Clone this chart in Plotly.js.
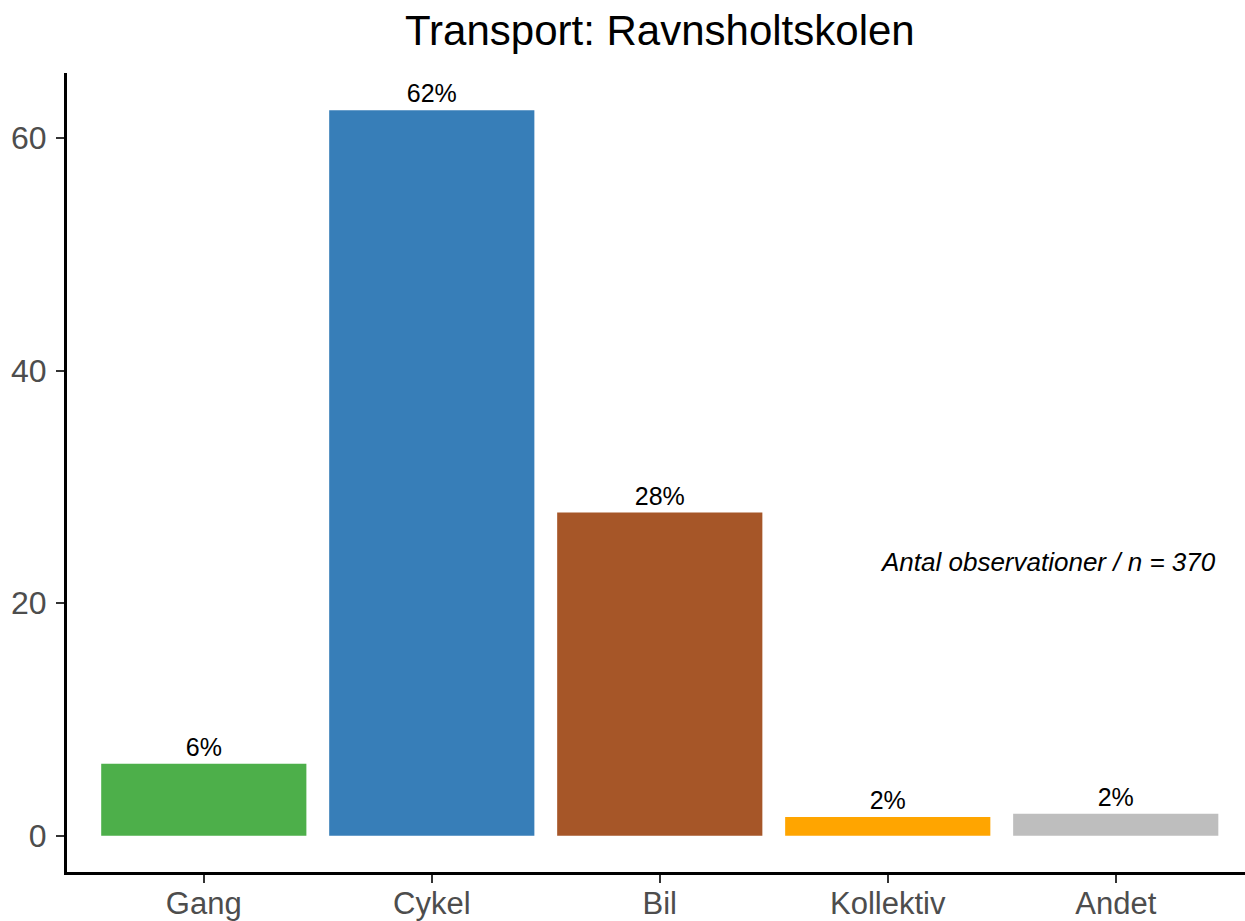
<!DOCTYPE html>
<html>
<head>
<meta charset="utf-8">
<script src="https://cdn.plot.ly/plotly-3.0.1.min.js"></script>
<style>html,body{margin:0;padding:0;background:#fff}#chart{width:1245px;height:921px}</style>
</head>
<body>
<div id="chart"></div>
<script>
const categories = ["Gang", "Cykel", "Bil", "Kollektiv", "Andet"];
const percentages = [6.2, 62.4, 27.8, 1.6, 1.9];
const barLabels = ["6%", "62%", "28%", "2%", "2%"];
const barColors = ["#4DAF4A", "#377EB8", "#A65628", "#FFA500", "#BEBEBE"];
const yTicks = [0, 20, 40, 60];
const nObs = 370;
const titleText = "Transport: Ravnsholtskolen";

const trace = {
  type: "bar",
  x: categories,
  y: percentages,
  width: 0.9,
  marker: {color: barColors, line: {width: 0}},
  text: barLabels,
  textposition: "outside",
  cliponaxis: false,
  textfont: {family: "Liberation Sans, Arial, sans-serif", size: 25, color: "#000"},
  hoverinfo: "skip"
};

const layout = {
  width: 1245, height: 921,
  margin: {l: 67, r: 0, t: 73, b: 49},
  paper_bgcolor: "#fff", plot_bgcolor: "#fff",
  showlegend: false,
  title: {
    text: titleText,
    font: {family: "Liberation Sans, Arial, sans-serif", size: 42, color: "#000"},
    x: 0.53, xanchor: "center", y: 0.967, yanchor: "middle"
  },
  xaxis: {
    type: "category",
    range: [-0.6, 4.567],
    showline: true, linecolor: "#000", linewidth: 3,
    ticks: "outside", ticklen: 8, tickwidth: 2, tickcolor: "#333",
    ticklabelstandoff: -6,
    tickfont: {family: "Liberation Sans, Arial, sans-serif", size: 31, color: "#4d4d4d"},
    showgrid: false, zeroline: false, fixedrange: true
  },
  yaxis: {
    range: [-3.12, 65.6],
    tickvals: yTicks,
    ticktext: yTicks.map(String),
    showline: true, linecolor: "#000", linewidth: 3,
    ticks: "outside", ticklen: 8, tickwidth: 2, tickcolor: "#333",
    ticklabelstandoff: 3,
    tickfont: {family: "Liberation Sans, Arial, sans-serif", size: 32, color: "#4d4d4d"},
    showgrid: false, zeroline: false, fixedrange: true
  },
  annotations: [{
    x: 4.45, y: 23.5, xref: "x", yref: "y",
    text: "<i>Antal observationer / n = " + nObs + "</i>",
    showarrow: false, xanchor: "right", yanchor: "middle",
    font: {family: "Liberation Sans, Arial, sans-serif", size: 26, color: "#000"}
  }],
  bargap: 0.1
};

Plotly.newPlot("chart", [trace], layout, {staticPlot: true, displayModeBar: false});
</script>
</body>
</html>
